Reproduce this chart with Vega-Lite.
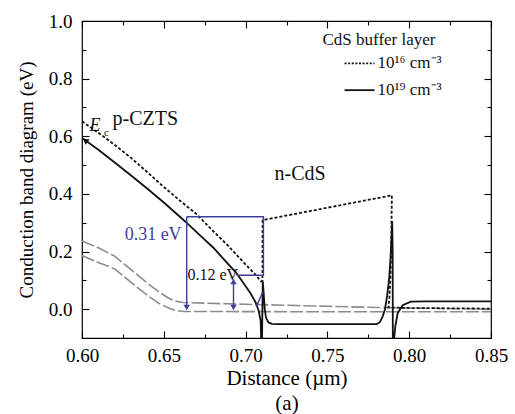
{
  "$schema": "https://vega.github.io/schema/vega-lite/v6.json",
  "width": 409,
  "height": 317,
  "autosize": {"type": "none"},
  "padding": {"left": 82, "top": 21, "right": 24, "bottom": 76},
  "config": {
    "view": {"stroke": "black", "strokeWidth": 1.2},
    "font": "Liberation Serif",
    "axis": {"domain": false, "grid": false, "labelFont": "Liberation Serif", "titleFont": "Liberation Serif", "labelColor": "black", "titleColor": "black", "tickColor": "black", "titleFontWeight": "normal", "tickWidth": 1.1, "labelFlush": false, "labelOverlap": false}
  },
  "resolve": {"scale": {"x": "shared", "y": "shared"}, "axis": {"x": "independent", "y": "independent"}},
  "datasets": {
    "lines": [
      {"s": "g1", "i": 0, "x": 0.600, "y": 0.237}, {"s": "g1", "i": 1, "x": 0.610, "y": 0.213}, {"s": "g1", "i": 2, "x": 0.620, "y": 0.184}, {"s": "g1", "i": 3, "x": 0.630, "y": 0.137}, {"s": "g1", "i": 4, "x": 0.640, "y": 0.090}, {"s": "g1", "i": 5, "x": 0.647, "y": 0.060}, {"s": "g1", "i": 6, "x": 0.653, "y": 0.038}, {"s": "g1", "i": 7, "x": 0.657, "y": 0.028}, {"s": "g1", "i": 8, "x": 0.662, "y": 0.023}, {"s": "g1", "i": 9, "x": 0.700, "y": 0.017}, {"s": "g1", "i": 10, "x": 0.750, "y": 0.010}, {"s": "g1", "i": 11, "x": 0.790, "y": 0.005}, {"s": "g1", "i": 12, "x": 0.850, "y": 0.000},
      {"s": "g2", "i": 0, "x": 0.600, "y": 0.186}, {"s": "g2", "i": 1, "x": 0.610, "y": 0.162}, {"s": "g2", "i": 2, "x": 0.620, "y": 0.140}, {"s": "g2", "i": 3, "x": 0.630, "y": 0.093}, {"s": "g2", "i": 4, "x": 0.640, "y": 0.048}, {"s": "g2", "i": 5, "x": 0.647, "y": 0.020}, {"s": "g2", "i": 6, "x": 0.653, "y": 0.004}, {"s": "g2", "i": 7, "x": 0.657, "y": -0.004}, {"s": "g2", "i": 8, "x": 0.662, "y": -0.008}, {"s": "g2", "i": 9, "x": 0.750, "y": -0.009}, {"s": "g2", "i": 10, "x": 0.850, "y": -0.009},
      {"s": "d", "i": 0, "x": 0.600, "y": 0.652}, {"s": "d", "i": 1, "x": 0.610, "y": 0.612}, {"s": "d", "i": 2, "x": 0.620, "y": 0.570}, {"s": "d", "i": 3, "x": 0.630, "y": 0.525}, {"s": "d", "i": 4, "x": 0.640, "y": 0.475}, {"s": "d", "i": 5, "x": 0.650, "y": 0.424}, {"s": "d", "i": 6, "x": 0.660, "y": 0.376}, {"s": "d", "i": 7, "x": 0.670, "y": 0.330}, {"s": "d", "i": 8, "x": 0.680, "y": 0.272}, {"s": "d", "i": 9, "x": 0.689, "y": 0.222}, {"s": "d", "i": 10, "x": 0.700, "y": 0.155}, {"s": "d", "i": 11, "x": 0.706, "y": 0.120}, {"s": "d", "i": 12, "x": 0.7095, "y": 0.096}, {"s": "d", "i": 13, "x": 0.7103, "y": 0.100}, {"s": "d", "i": 14, "x": 0.7104, "y": 0.309}, {"s": "d", "i": 15, "x": 0.7894, "y": 0.395}, {"s": "d", "i": 16, "x": 0.7891, "y": 0.250}, {"s": "d", "i": 17, "x": 0.7886, "y": 0.120}, {"s": "d", "i": 18, "x": 0.7879, "y": 0.040}, {"s": "d", "i": 19, "x": 0.7873, "y": 0.006}, {"s": "d", "i": 20, "x": 0.800, "y": 0.004}, {"s": "d", "i": 21, "x": 0.850, "y": 0.002},
      {"s": "s", "i": 0, "x": 0.600, "y": 0.594}, {"s": "s", "i": 1, "x": 0.610, "y": 0.553}, {"s": "s", "i": 2, "x": 0.620, "y": 0.509}, {"s": "s", "i": 3, "x": 0.630, "y": 0.464}, {"s": "s", "i": 4, "x": 0.640, "y": 0.418}, {"s": "s", "i": 5, "x": 0.650, "y": 0.370}, {"s": "s", "i": 6, "x": 0.660, "y": 0.320}, {"s": "s", "i": 7, "x": 0.665, "y": 0.294}, {"s": "s", "i": 8, "x": 0.672, "y": 0.257}, {"s": "s", "i": 9, "x": 0.680, "y": 0.215}, {"s": "s", "i": 10, "x": 0.688, "y": 0.165}, {"s": "s", "i": 11, "x": 0.694, "y": 0.128}, {"s": "s", "i": 12, "x": 0.699, "y": 0.088}, {"s": "s", "i": 13, "x": 0.703, "y": 0.055}, {"s": "s", "i": 14, "x": 0.706, "y": 0.025}, {"s": "s", "i": 15, "x": 0.708, "y": -0.005}, {"s": "s", "i": 16, "x": 0.7092, "y": -0.040}, {"s": "s", "i": 17, "x": 0.7096, "y": -0.120}, {"s": "s", "i": 18, "x": 0.7100, "y": -0.120}, {"s": "s", "i": 19, "x": 0.7105, "y": 0.097}, {"s": "s", "i": 20, "x": 0.7110, "y": 0.060}, {"s": "s", "i": 21, "x": 0.7117, "y": 0.000}, {"s": "s", "i": 22, "x": 0.7125, "y": -0.030}, {"s": "s", "i": 23, "x": 0.7140, "y": -0.046}, {"s": "s", "i": 24, "x": 0.7160, "y": -0.051}, {"s": "s", "i": 25, "x": 0.7200, "y": -0.052}, {"s": "s", "i": 26, "x": 0.7800, "y": -0.052}, {"s": "s", "i": 27, "x": 0.7820, "y": -0.046}, {"s": "s", "i": 28, "x": 0.7838, "y": -0.025}, {"s": "s", "i": 29, "x": 0.7852, "y": 0.000}, {"s": "s", "i": 30, "x": 0.7866, "y": 0.050}, {"s": "s", "i": 31, "x": 0.7878, "y": 0.110}, {"s": "s", "i": 32, "x": 0.7886, "y": 0.180}, {"s": "s", "i": 33, "x": 0.7892, "y": 0.250}, {"s": "s", "i": 34, "x": 0.7896, "y": 0.305}, {"s": "s", "i": 35, "x": 0.7899, "y": 0.200}, {"s": "s", "i": 36, "x": 0.7900, "y": -0.120}, {"s": "s", "i": 37, "x": 0.7905, "y": -0.120}, {"s": "s", "i": 38, "x": 0.7915, "y": -0.060}, {"s": "s", "i": 39, "x": 0.7930, "y": -0.013}, {"s": "s", "i": 40, "x": 0.7960, "y": 0.014}, {"s": "s", "i": 41, "x": 0.8010, "y": 0.026}, {"s": "s", "i": 42, "x": 0.8100, "y": 0.027}, {"s": "s", "i": 43, "x": 0.8500, "y": 0.027}
    ],
    "blue": [
      {"g": "box", "i": 0, "x": 0.6640, "y": 0.321}, {"g": "box", "i": 1, "x": 0.7109, "y": 0.321}, {"g": "box", "i": 2, "x": 0.7109, "y": 0.118}, {"g": "box", "i": 3, "x": 0.6945, "y": 0.118},
      {"g": "a1", "i": 0, "x": 0.6640, "y": 0.321}, {"g": "a1", "i": 1, "x": 0.6640, "y": 0.010},
      {"g": "a2", "i": 0, "x": 0.6926, "y": 0.092}, {"g": "a2", "i": 1, "x": 0.6926, "y": 0.012},
      {"g": "v", "i": 0, "x": 0.7065, "y": 0.008}, {"g": "v", "i": 1, "x": 0.7105, "y": 0.060}
    ],
    "heads": [
      {"dir": "down", "x": 0.6640, "y": 0.006}, {"dir": "down", "x": 0.6926, "y": 0.006}, {"dir": "up", "x": 0.6926, "y": 0.096}
    ],
    "ec": [{"x": 0.6020, "y": 0.586}],
    "legend": [
      {"k": "d", "x": 0.7605, "x2": 0.7788, "y": 0.853}, {"k": "s", "x": 0.7605, "x2": 0.7788, "y": 0.760}
    ],
    "labels": [
      {"t": "p-CZTS", "x": 0.6187, "y": 0.660}, {"t": "n-CdS", "x": 0.7177, "y": 0.468}
    ],
    "legtext": [
      {"t": "10¹⁶ cm⁻³", "x": 0.7806, "y": 0.853}, {"t": "10¹⁹ cm⁻³", "x": 0.7806, "y": 0.760}
    ],
    "legtitle": [{"t": "CdS buffer layer", "x": 0.7470, "y": 0.935}],
    "e": [{"t": "E", "x": 0.6046, "y": 0.637}],
    "c": [{"t": "c", "x": 0.6135, "y": 0.612}],
    "v31": [{"t": "0.31 eV", "x": 0.6609, "y": 0.258}],
    "v12": [{"t": "0.12 eV", "x": 0.6645, "y": 0.117}]
  },
  "layer": [
    {
      "data": {"name": "lines"},
      "mark": {"type": "point", "opacity": 0},
      "encoding": {
        "x": {"field": "x", "type": "quantitative", "scale": {"domain": [0.6, 0.85], "nice": false, "zero": false},
          "axis": {"orient": "bottom", "values": [0.6, 0.65, 0.7, 0.75, 0.8, 0.85], "format": ".2f", "tickSize": -7, "labelPadding": 15, "labelFontSize": 19, "title": ["Distance (µm)", "(a)"], "titleFontSize": 21, "titleLineHeight": 25, "titlePadding": 2}},
        "y": {"field": "y", "type": "quantitative", "scale": {"domain": [-0.1, 1.0], "nice": false, "zero": false},
          "axis": {"orient": "left", "values": [0, 0.2, 0.4, 0.6, 0.8, 1.0], "format": ".1f", "tickSize": -7, "labelPadding": 17, "labelFontSize": 19, "title": "Conduction band diagram (eV)", "titleFontSize": 19, "titlePadding": 12}}
      }
    },
    {
      "data": {"name": "lines"},
      "mark": {"type": "point", "opacity": 0},
      "encoding": {
        "x": {"field": "x", "type": "quantitative", "axis": {"orient": "bottom", "values": [0.625, 0.675, 0.725, 0.775, 0.825], "tickSize": -4, "labels": false, "title": null}},
        "y": {"field": "y", "type": "quantitative", "axis": {"orient": "left", "values": [0.1, 0.3, 0.5, 0.7, 0.9], "tickSize": -4, "labels": false, "title": null}}
      }
    },
    {
      "data": {"name": "lines"},
      "mark": {"type": "point", "opacity": 0},
      "encoding": {
        "x": {"field": "x", "type": "quantitative", "axis": {"orient": "top", "values": [0.6, 0.65, 0.7, 0.75, 0.8, 0.85], "tickSize": -7, "labels": false, "title": null}},
        "y": {"field": "y", "type": "quantitative", "axis": {"orient": "right", "values": [0, 0.2, 0.4, 0.6, 0.8, 1.0], "tickSize": -7, "labels": false, "title": null}}
      }
    },
    {
      "data": {"name": "lines"},
      "mark": {"type": "point", "opacity": 0},
      "encoding": {
        "x": {"field": "x", "type": "quantitative", "axis": {"orient": "top", "values": [0.625, 0.675, 0.725, 0.775, 0.825], "tickSize": -4, "labels": false, "title": null}},
        "y": {"field": "y", "type": "quantitative", "axis": {"orient": "right", "values": [0.1, 0.3, 0.5, 0.7, 0.9], "tickSize": -4, "labels": false, "title": null}}
      }
    },
    {
      "data": {"name": "lines"},
      "transform": [{"filter": "datum.s === 'g1' || datum.s === 'g2'"}],
      "mark": {"type": "line", "color": "#8c8c8c", "strokeWidth": 1.6, "strokeDash": [13, 3], "clip": true},
      "encoding": {
        "x": {"field": "x", "type": "quantitative", "axis": null},
        "y": {"field": "y", "type": "quantitative", "axis": null},
        "detail": {"field": "s"},
        "order": {"field": "i", "type": "quantitative"}
      }
    },
    {
      "data": {"name": "lines"},
      "transform": [{"filter": "datum.s === 'd'"}],
      "mark": {"type": "line", "color": "#111111", "strokeWidth": 1.8, "strokeDash": [3, 2], "clip": true},
      "encoding": {
        "x": {"field": "x", "type": "quantitative", "axis": null},
        "y": {"field": "y", "type": "quantitative", "axis": null},
        "order": {"field": "i", "type": "quantitative"}
      }
    },
    {
      "data": {"name": "lines"},
      "transform": [{"filter": "datum.s === 's'"}],
      "mark": {"type": "line", "color": "#111111", "strokeWidth": 1.8, "clip": true},
      "encoding": {
        "x": {"field": "x", "type": "quantitative", "axis": null},
        "y": {"field": "y", "type": "quantitative", "axis": null},
        "order": {"field": "i", "type": "quantitative"}
      }
    },
    {
      "data": {"name": "blue"},
      "mark": {"type": "line", "color": "#3d3d9c", "strokeWidth": 1.4, "clip": true},
      "encoding": {
        "x": {"field": "x", "type": "quantitative", "axis": null},
        "y": {"field": "y", "type": "quantitative", "axis": null},
        "detail": {"field": "g"},
        "order": {"field": "i", "type": "quantitative"}
      }
    },
    {
      "data": {"name": "heads"},
      "transform": [{"filter": "datum.dir === 'down'"}],
      "mark": {"type": "point", "shape": "triangle-down", "filled": true, "color": "#3d3d9c", "size": 40, "opacity": 1},
      "encoding": {
        "x": {"field": "x", "type": "quantitative", "axis": null},
        "y": {"field": "y", "type": "quantitative", "axis": null}
      }
    },
    {
      "data": {"name": "heads"},
      "transform": [{"filter": "datum.dir === 'up'"}],
      "mark": {"type": "point", "shape": "triangle-up", "filled": true, "color": "#3d3d9c", "size": 40, "opacity": 1},
      "encoding": {
        "x": {"field": "x", "type": "quantitative", "axis": null},
        "y": {"field": "y", "type": "quantitative", "axis": null}
      }
    },
    {
      "data": {"name": "ec"},
      "mark": {"type": "point", "shape": "triangle-up", "filled": true, "color": "#111111", "size": 45, "angle": 308, "opacity": 1},
      "encoding": {
        "x": {"field": "x", "type": "quantitative", "axis": null},
        "y": {"field": "y", "type": "quantitative", "axis": null}
      }
    },
    {
      "data": {"name": "legend"},
      "transform": [{"filter": "datum.k === 'd'"}],
      "mark": {"type": "rule", "color": "#111111", "strokeWidth": 1.6, "strokeDash": [2, 1.6]},
      "encoding": {
        "x": {"field": "x", "type": "quantitative", "axis": null},
        "x2": {"field": "x2"},
        "y": {"field": "y", "type": "quantitative", "axis": null}
      }
    },
    {
      "data": {"name": "legend"},
      "transform": [{"filter": "datum.k === 's'"}],
      "mark": {"type": "rule", "color": "#111111", "strokeWidth": 1.8},
      "encoding": {
        "x": {"field": "x", "type": "quantitative", "axis": null},
        "x2": {"field": "x2"},
        "y": {"field": "y", "type": "quantitative", "axis": null}
      }
    },
    {
      "data": {"name": "labels"},
      "mark": {"type": "text", "font": "Liberation Serif", "fontSize": 20, "align": "left", "baseline": "middle", "color": "#111111"},
      "encoding": {
        "x": {"field": "x", "type": "quantitative", "axis": null},
        "y": {"field": "y", "type": "quantitative", "axis": null},
        "text": {"field": "t"}
      }
    },
    {
      "data": {"name": "legtext"},
      "mark": {"type": "text", "font": "Liberation Serif", "fontSize": 17, "align": "left", "baseline": "middle", "color": "#111111"},
      "encoding": {
        "x": {"field": "x", "type": "quantitative", "axis": null},
        "y": {"field": "y", "type": "quantitative", "axis": null},
        "text": {"field": "t"}
      }
    },
    {
      "data": {"name": "legtitle"},
      "mark": {"type": "text", "font": "Liberation Serif", "fontSize": 17, "align": "left", "baseline": "middle", "color": "#111111"},
      "encoding": {
        "x": {"field": "x", "type": "quantitative", "axis": null},
        "y": {"field": "y", "type": "quantitative", "axis": null},
        "text": {"field": "t"}
      }
    },
    {
      "data": {"name": "e"},
      "mark": {"type": "text", "font": "Liberation Serif", "fontSize": 18, "fontStyle": "italic", "align": "left", "baseline": "middle", "color": "#111111"},
      "encoding": {
        "x": {"field": "x", "type": "quantitative", "axis": null},
        "y": {"field": "y", "type": "quantitative", "axis": null},
        "text": {"field": "t"}
      }
    },
    {
      "data": {"name": "c"},
      "mark": {"type": "text", "font": "Liberation Serif", "fontSize": 11, "align": "left", "baseline": "middle", "color": "#111111"},
      "encoding": {
        "x": {"field": "x", "type": "quantitative", "axis": null},
        "y": {"field": "y", "type": "quantitative", "axis": null},
        "text": {"field": "t"}
      }
    },
    {
      "data": {"name": "v31"},
      "mark": {"type": "text", "font": "Liberation Serif", "fontSize": 18, "align": "right", "baseline": "middle", "color": "#3d3d9c"},
      "encoding": {
        "x": {"field": "x", "type": "quantitative", "axis": null},
        "y": {"field": "y", "type": "quantitative", "axis": null},
        "text": {"field": "t"}
      }
    },
    {
      "data": {"name": "v12"},
      "mark": {"type": "text", "font": "Liberation Serif", "fontSize": 16, "align": "left", "baseline": "middle", "color": "#111111"},
      "encoding": {
        "x": {"field": "x", "type": "quantitative", "axis": null},
        "y": {"field": "y", "type": "quantitative", "axis": null},
        "text": {"field": "t"}
      }
    }
  ]
}
